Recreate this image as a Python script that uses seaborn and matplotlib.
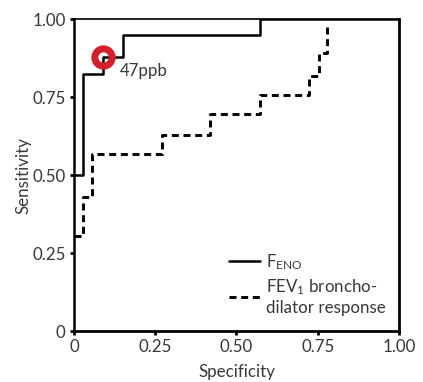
#!/usr/bin/env python3
"""ROC curves: FeNO vs FEV1 bronchodilator response."""

import matplotlib
matplotlib.use("Agg")
import matplotlib.pyplot as plt
import pandas as pd
import seaborn as sns

# FeNO ROC steps (specificity axis as drawn, sensitivity)
feno_x = [0.0, 0.028, 0.09, 0.15, 0.572, 1.0]
feno_y = [0.5, 0.824, 0.88, 0.95, 1.0, 1.0]

# FEV1 bronchodilator response ROC steps
fev_x = [0.0, 0.028, 0.055, 0.27, 0.42, 0.572, 0.723, 0.754, 0.78]
fev_y = [0.304, 0.43, 0.567, 0.628, 0.695, 0.756, 0.817, 0.89, 0.98]

cutoff_x, cutoff_y = 0.09, 0.88
cutoff_label = "47ppb"

ticks = [0, 0.25, 0.5, 0.75, 1.0]
tick_labels = ["0", "0.25", "0.50", "0.75", "1.00"]

sns.set_theme(style="white")
plt.rcParams["font.family"] = ["Lato", "DejaVu Sans"]
plt.rcParams["mathtext.fontset"] = "custom"
plt.rcParams["mathtext.rm"] = "Lato"

fs = 12.2
txt = "#383838"

fig = plt.figure(figsize=(4.23, 3.82), dpi=100)
ax = fig.add_axes([0.175, 0.1335, 0.768, 0.8165])

feno = pd.DataFrame({"x": feno_x, "y": feno_y})
fev = pd.DataFrame({"x": fev_x, "y": fev_y})

sns.lineplot(data=feno, x="x", y="y", ax=ax, color="black", linewidth=1.8,
             drawstyle="steps-post", estimator=None, sort=False,
             label=r"F$\mathregular{_{ENO}}$")
sns.lineplot(data=fev, x="x", y="y", ax=ax, color="black", linewidth=2.1,
             drawstyle="steps-post", estimator=None, sort=False,
             linestyle=(0, (2.4, 1.6)),
             label="FEV$\\mathregular{_1}$ broncho-\ndilator response")

ax.plot([cutoff_x], [cutoff_y], marker="o", markersize=12.5, markerfacecolor="none",
        markeredgecolor="#d21f2a", markeredgewidth=5.0, zorder=5)
ax.text(cutoff_x + 0.05, cutoff_y - 0.045, cutoff_label, fontsize=fs,
        ha="left", va="center", color=txt)

ax.set_xlim(0, 1.0)
ax.set_ylim(0, 1.0)
ax.set_xticks(ticks)
ax.set_xticklabels(tick_labels)
ax.set_yticks(ticks)
ax.set_yticklabels(tick_labels)
ax.tick_params(axis="both", direction="out", length=3, width=2, labelsize=fs,
               colors="black", labelcolor=txt, pad=3, left=True, bottom=True)
ax.set_xlabel("Specificity", fontsize=fs, color=txt, labelpad=6)
ax.set_ylabel("Sensitivity", fontsize=fs, color=txt, labelpad=1)

for side, lw in [("left", 1.8), ("bottom", 2.0), ("right", 2.0), ("top", 1.2)]:
    ax.spines[side].set_visible(True)
    ax.spines[side].set_color("black")
    ax.spines[side].set_linewidth(lw)

leg = ax.legend(loc="lower right", frameon=False, fontsize=fs, handlelength=1.8,
                handletextpad=0.35, borderaxespad=0.3, labelspacing=0.35,
                bbox_to_anchor=(0.995, 0.01))
for t in leg.get_texts():
    t.set_color(txt)

fig.savefig("out.png", dpi=100)
plt.close(fig)
